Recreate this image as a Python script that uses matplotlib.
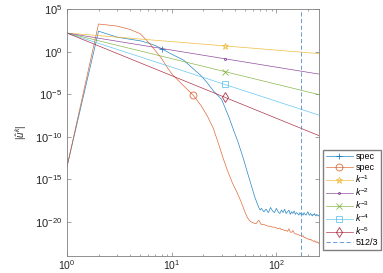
import numpy as np
import matplotlib
matplotlib.use("Agg")
import matplotlib.pyplot as plt
from matplotlib.ticker import FixedLocator, NullFormatter, LogLocator

plt.rcParams['font.family'] = ['Liberation Sans', 'DejaVu Sans']
plt.rcParams['mathtext.fontset'] = 'custom'
plt.rcParams['mathtext.rm'] = 'Liberation Sans'
plt.rcParams['mathtext.it'] = 'Liberation Sans:italic'

# spectrum 1 (blue), log10 of |u_hat|
k_blue = [1, 2, 3, 4, 5, 6, 7, 8, 10, 13, 16, 19, 22, 25, 30, 35, 39, 43, 48, 53, 58, 62, 66, 68, 70,
          72, 76, 80, 84, 88, 92, 96, 100, 104, 108, 112, 116, 120, 124, 128, 132, 136, 140, 144, 148,
          152, 156, 160, 164, 168, 172, 176, 180, 184, 188, 192, 196, 200, 204, 208, 212, 216, 220, 224,
          228, 232, 236, 240, 244, 248, 252, 256]
log_blue = [-13.5, 2.4, 1.7, 1.45, 1.27, 1.0, 0.7, 0.35, -0.3, -1.0, -2.0, -2.8, -3.7, -4.6, -5.6, -7.6, -9.2,
            -10.6, -12.4, -14.2, -15.8, -17.0, -17.9, -18.3, -18.6,
            -18.4, -18.8, -18.5, -18.9, -18.3, -18.7, -18.9, -18.4, -18.8, -19.0, -18.6, -18.9, -18.5, -19.0,
            -18.8, -18.6, -19.1, -18.8, -19.0, -18.7, -19.1, -18.9, -19.0, -19.2, -18.9, -19.1, -19.0, -19.2,
            -18.9, -19.1, -19.2, -19.0, -18.8, -19.1, -19.2, -19.0, -19.1, -19.3, -19.1, -19.2, -19.0, -19.2,
            -19.3, -19.1, -19.2, -19.3, -19.2]

# spectrum 2 (orange)
k_orange = [1, 2, 3, 4, 5, 6, 7, 8, 9, 10, 12, 14, 16, 19, 22, 25, 28, 31, 34, 38, 42, 46, 50, 53, 56, 60, 64,
            68, 72, 76, 80, 84, 88, 92, 96, 100, 104, 108, 112, 116, 120, 124, 128, 132, 136, 140, 144, 148,
            152, 156, 160, 164, 168, 172, 176, 180, 184, 188, 192, 196, 200, 204, 208, 212, 216, 220, 224,
            228, 232, 236, 240, 244, 248, 252, 256]
log_orange = [-13.5, 3.24, 3.0, 2.6, 2.1, 1.1, 0.1, -0.8, -1.8, -2.6, -3.6, -4.4, -5.1, -6.3, -7.6, -9.0, -10.8,
              -12.5, -13.9, -15.4, -16.5, -17.6, -18.8, -19.5, -19.9, -20.1, -20.2,
              -19.8, -20.3, -20.3, -20.4, -20.5, -20.5, -20.6, -20.6, -20.7, -20.8, -20.7, -20.9, -20.9, -21.0,
              -21.0, -21.1, -20.8, -21.2, -21.2, -21.0, -21.3, -21.4, -21.4, -21.5, -21.5, -21.6, -21.6, -21.7,
              -21.6, -21.8, -21.8, -21.9, -21.9, -22.0, -22.0, -22.1, -22.0, -22.1, -22.2, -22.2, -22.3, -22.2,
              -22.3, -22.4, -22.3, -22.4, -22.5, -22.4]

# reference power laws C * k^-n
ref_scale = 150.0
ref_powers = [1, 2, 3, 4, 5]
ref_labels = ['$k^{-1}$', '$k^{-2}$', '$k^{-3}$', '$k^{-4}$', '$k^{-5}$']
k_max = 256
cutoff = 512 / 3

c_blue = (0.0, 0.447, 0.741)
c_orange = (0.85, 0.325, 0.098)
ref_colors = [(0.929, 0.694, 0.125), (0.494, 0.184, 0.556), (0.466, 0.674, 0.188),
              (0.301, 0.745, 0.933), (0.635, 0.078, 0.184)]
ref_markers = ['*', '.', 'x', 's', 'd']

fig = plt.figure(figsize=(3.83, 2.73), dpi=100)
ax = fig.add_axes([0.175, 0.062, 0.658, 0.905])

lw = 0.5
ax.plot(k_blue, 10.0 ** np.array(log_blue), color=c_blue, lw=lw, alpha=0.85, marker='+',
        markevery=[k_blue.index(8)], ms=5, mew=0.6, label='spec')
ax.plot(k_orange, 10.0 ** np.array(log_orange), color=c_orange, lw=lw, alpha=0.85, marker='o',
        markevery=[k_orange.index(16)], ms=5, mew=0.6, mfc='none', label='spec')

kk = np.arange(1, k_max + 1)
for n, lab, col, mk in zip(ref_powers, ref_labels, ref_colors, ref_markers):
    ax.plot(kk, ref_scale * kk ** (-float(n)), color=col, lw=lw, alpha=0.85, marker=mk,
            markevery=[31], ms=5 if mk != '.' else 3, mew=0.6, mfc='none', label=lab)

ax.axvline(cutoff, color=(0.3, 0.55, 0.8), lw=0.6, ls=(0, (5, 3)), label='512/3')

ax.set_xscale('log')
ax.set_yscale('log')
ax.set_xlim(1, k_max)
ax.set_ylim(1e-24, 1e5)

ax.yaxis.set_major_locator(FixedLocator([1e-20, 1e-15, 1e-10, 1e-5, 1e0, 1e5]))
ax.yaxis.set_minor_locator(LogLocator(base=10, subs=[1.0], numticks=40))
ax.yaxis.set_minor_formatter(NullFormatter())
ax.xaxis.set_minor_locator(LogLocator(base=10, subs=np.arange(2, 10), numticks=20))
ax.xaxis.set_minor_formatter(NullFormatter())

gray = '#7f7f7f'
for s in ax.spines.values():
    s.set_color(gray)
    s.set_linewidth(0.6)
ax.tick_params(which='both', direction='in', top=True, right=True, colors=gray,
               labelcolor='#262626', labelsize=8, width=0.5)
ax.tick_params(axis='x', which='major', labelsize=7.5, pad=1.5)
ax.tick_params(which='major', length=3)
ax.tick_params(which='minor', length=1.5)
ax.tick_params(axis='y', which='minor', length=0)

ax.set_ylabel(r'$|\hat{u}^k|$', fontsize=7, color='#262626', labelpad=4)

ax.legend(loc='upper left', bbox_to_anchor=(0.843, 0.452), bbox_transform=fig.transFigure,
          fontsize=6.5, frameon=True, fancybox=False, edgecolor=gray, framealpha=1,
          handlelength=3.0, handletextpad=0.3, borderaxespad=0, borderpad=0.3,
          labelspacing=0.15)

fig.savefig('out.png', dpi=100)
